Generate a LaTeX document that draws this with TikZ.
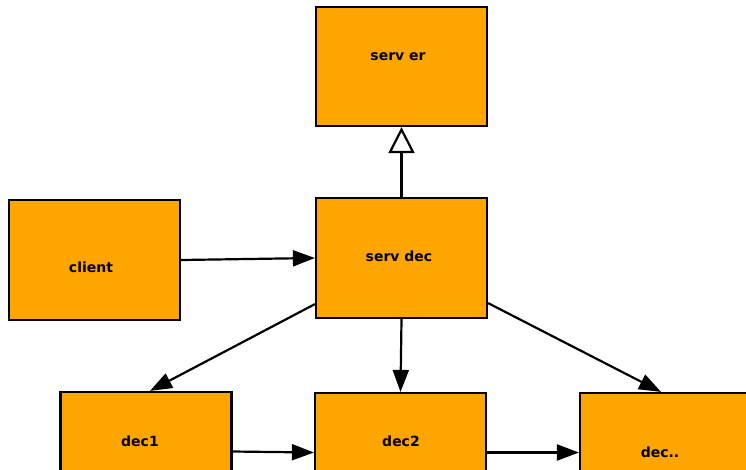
\documentclass[tikz,border=0pt]{standalone}
\usepackage{fontspec}
\setmainfont{DejaVu Sans}
\usetikzlibrary{arrows.meta}
\definecolor{boxorange}{HTML}{FFA500}
\begin{document}
\begin{tikzpicture}[x=1pt,y=-1pt,
  box/.style={draw=black,fill=boxorange,line width=2.2pt,minimum width=171pt,minimum height=119pt,inner sep=0pt},
  txt/.style={font=\fontsize{14}{16}\selectfont\bfseries,inner sep=0pt},
  conn/.style={draw=black,line width=2.2pt,-{Triangle[length=22pt,width=16pt]}},
  gen/.style={draw=black,line width=2.2pt,-{Triangle[open,length=26pt,width=26pt,fill=white,line width=2.2pt]}}]
\useasboundingbox (0,0) rectangle (746,469);
\fill[white] (0,0) rectangle (746,469);
\node[box] (server) at (401.5,66.5) {};
\node[box,minimum height=120pt] (client) at (94.5,260) {};
\node[box,minimum height=120pt] (servdec) at (401.5,258) {};
\node[box] (dec1) at (146,451.5) {};
\node[box] (dec2) at (400.5,452.5) {};
\node[box] (decx) at (665.5,452.5) {};
\node[txt] (serverlbl) at (398,57) {serv er};
\node[txt] (clientlbl) at (91,267) {client};
\node[txt] (servdeclbl) at (399,256) {serv dec};
\node[txt] (dec1lbl) at (140,441) {dec1};
\node[txt] (dec2lbl) at (401,441) {dec2};
\node[txt] (decxlbl) at (660,452) {dec..};
\draw[gen] (servdec.north) -- (server.south);
\draw[conn] (client.east) -- (servdec.west);
\draw[conn] ([yshift=15pt]servdec.south west) -- ([xshift=4pt]dec1.north);
\draw[conn] (servdec.south) -- (dec2.north);
\draw[conn] ([yshift=16pt]servdec.south east) -- ([xshift=-4.5pt]decx.north);
\draw[conn] (dec1.east) -- (dec2.west);
\draw[conn] (dec2.east) -- (decx.west);
\end{tikzpicture}
\end{document}
